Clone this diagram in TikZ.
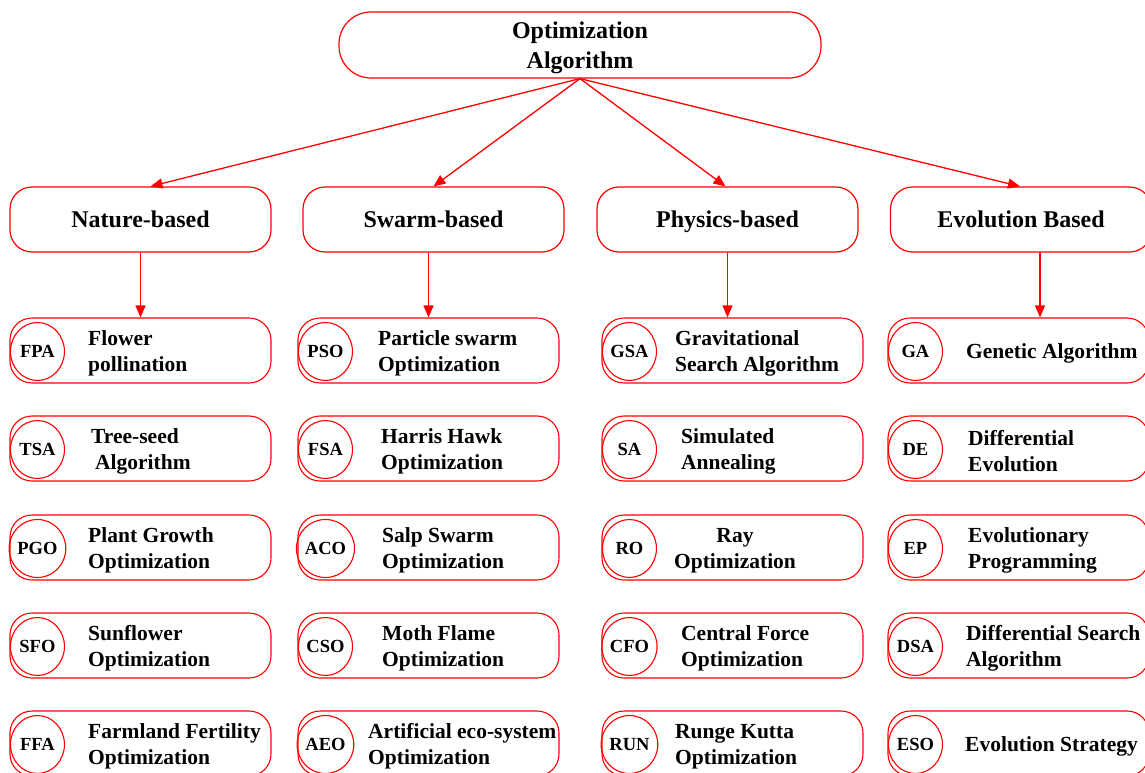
\documentclass[tikz,border=0pt]{standalone}
\usepackage{fontspec}
\setmainfont{Liberation Serif}
\usetikzlibrary{arrows.meta,shapes.geometric}

% one leaf: #1 name, #2 centre x, #3 centre y, #4 tag text, #5 text x, #6 text
\newcommand\leafitem[6]{%
  \node[leafbox] (#1) at (#2,#3) {};
  \node[tagring] (#1t) at ([xshift=28pt,yshift=-1pt]#1.west) {#4};
  \node[leaftext] (#1x) at (#5,{#3+3}) {#6};
}

\begin{document}
\begin{tikzpicture}[x=1pt,y=-1pt,
  conn/.style={red, line width=1.3pt, -{Triangle[length=12pt,width=10pt]}},
  rootbox/.style={draw=red, line width=1.2pt, rounded corners=32pt,
    minimum width=482pt, minimum height=66pt, inner sep=0pt},
  roottext/.style={align=center, inner sep=0pt, yshift=-3pt,
    font=\bfseries\fontsize{24}{30}\selectfont},
  catbox/.style={draw=red, line width=1.2pt, rounded corners=22pt,
    minimum width=261pt, minimum height=65pt, inner sep=0pt,
    text height=16.5pt, text depth=0pt,
    font=\bfseries\fontsize{24}{30}\selectfont},
  leafbox/.style={draw=red, line width=1.1pt, rounded corners=22pt,
    minimum width=261pt, minimum height=65pt, inner sep=0pt},
  tagring/.style={draw=red, line width=1.1pt, ellipse, minimum width=54pt,
    minimum height=58pt, inner sep=0pt,
    font=\bfseries\fontsize{18.5}{20}\selectfont},
  leaftext/.style={anchor=west, align=left, inner sep=0pt,
    font=\bfseries\fontsize{21.5}{26}\selectfont},
]
\useasboundingbox (0,0) rectangle (1145,773);
\fill[white] (0,0) rectangle (1145,773);
\clip (0,0) rectangle (1145,773);

% root and categories
\node[rootbox, label={[roottext]center:Optimization\\Algorithm}] (root) at (580,45) {};
\node[catbox] (nat) at (140.5,219.5) {Nature-based};
\node[catbox] (swa) at (433.5,219.5) {Swarm-based};
\node[catbox] (phy) at (727.5,219.5) {Physics-based};
\node[catbox] (evo) at (1021,219.5) {Evolution Based};

% nature-based
\leafitem{n1}{140.5}{350.5}{FPA}{88}{Flower\\pollination}
\leafitem{n2}{140.5}{448.5}{TSA}{91}{Tree-seed\\\hspace*{4pt}Algorithm}
\leafitem{n3}{140.5}{547.5}{PGO}{88}{Plant Growth\\Optimization}
\leafitem{n4}{140.5}{645.5}{SFO}{88}{Sunflower\\Optimization}
\leafitem{n5}{140.5}{743.5}{FFA}{88}{Farmland Fertility\\Optimization}

% swarm-based
\leafitem{s1}{428.5}{350.5}{PSO}{378}{Particle swarm\\Optimization}
\leafitem{s2}{428.5}{448.5}{FSA}{381}{Harris Hawk\\Optimization}
\leafitem{s3}{428.5}{547.5}{ACO}{382}{Salp Swarm\\Optimization}
\leafitem{s4}{428.5}{645.5}{CSO}{382}{Moth Flame\\Optimization}
\leafitem{s5}{428.5}{743.5}{AEO}{368}{Artificial eco-system\\Optimization}

% physics-based
\leafitem{p1}{732.5}{350.5}{GSA}{675}{Gravitational\\Search Algorithm}
\leafitem{p2}{732.5}{448.5}{SA}{681}{Simulated\\Annealing}
\node[leafbox] (p3) at (732.5,547.5) {};
\node[tagring] (p3t) at ([xshift=28pt,yshift=-1pt]p3.west) {RO};
\node[leaftext, anchor=center, align=center] (p3x) at (735,550.5) {Ray\\Optimization};
\leafitem{p4}{732.5}{645.5}{CFO}{681}{Central Force\\Optimization}
\leafitem{p5}{732.5}{743.5}{RUN}{675}{Runge Kutta\\Optimization}

% evolution-based
\leafitem{e1}{1018.5}{350.5}{GA}{966}{Genetic Algorithm}
\leafitem{e2}{1018.5}{448.5}{DE}{968}{Differential\\Evolution}
\leafitem{e3}{1018.5}{547.5}{EP}{968}{Evolutionary\\Programming}
\leafitem{e4}{1018.5}{645.5}{DSA}{966}{Differential Search\\Algorithm}
\leafitem{e5}{1018.5}{743.5}{ESO}{965}{Evolution Strategy}

% connectors
\draw[conn] (root.south) -- ([xshift=10pt]nat.north);
\draw[conn] (root.south) -- (swa.north);
\draw[conn] (root.south) -- ([xshift=-2pt]phy.north);
\draw[conn] (root.south) -- ([xshift=-1pt]evo.north);
\draw[conn] (nat.south) -- (nat.south |- n1.north);
\draw[conn] (s1.north |- swa.south) -- (s1.north);
\draw[conn] (phy.south) -- (phy.south |- p1.north);
\draw[conn] ([xshift=19pt]evo.south) -- ([xshift=19pt]evo.south |- e1.north);
\end{tikzpicture}
\end{document}
